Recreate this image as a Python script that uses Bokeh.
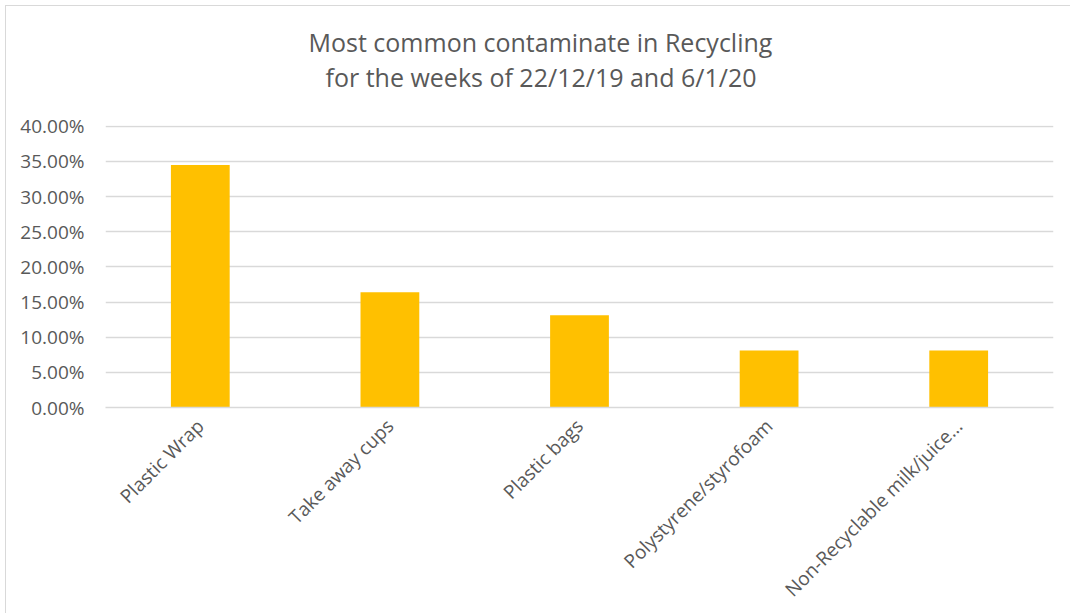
from bokeh.plotting import figure
from bokeh.embed import file_html
from bokeh.resources import INLINE
from bokeh.models import NumeralTickFormatter, Range1d, FixedTicker, Title
import math

categories = ["Plastic Wrap", "Take away cups", "Plastic bags",
              "Polystyrene/styrofoam", "Non-Recyclable milk/juice…"]
values = [0.3448, 0.1638, 0.1312, 0.0811, 0.0811]
y_ticks = [0.0, 0.05, 0.10, 0.15, 0.20, 0.25, 0.30, 0.35, 0.40]
title_lines = ["Most common contaminate in Recycling",
               "for the weeks of 22/12/19 and 6/1/20"]

FONT = "Open Sans"
GREY = "#595959"

p = figure(x_range=categories, width=1065, height=608,
           output_backend="svg", toolbar_location=None,
           min_border_left=99, min_border_right=18,
           min_border_top=119, min_border_bottom=200)
p.margin = (5, 0, 0, 5)
p.styles = {"border-left": "1px solid #D9D9D9", "border-top": "1px solid #D9D9D9"}
p.y_range = Range1d(0, 0.401)

p.vbar(x=categories, top=values, width=0.31, fill_color="#FFC000",
       line_color=None)

# line closest to the frame is added first
t2 = Title(text=title_lines[1], align="left", offset=220, standoff=64,
           text_font=FONT, text_font_size="25px", text_font_style="normal",
           text_color=GREY)
t1 = Title(text=title_lines[0], align="left", offset=203, standoff=-66,
           text_font=FONT, text_font_size="25px", text_font_style="normal",
           text_color=GREY)
p.add_layout(t2, "above")
p.add_layout(t1, "above")

p.outline_line_color = None
p.xgrid.grid_line_color = None
p.ygrid.grid_line_color = "#D9D9D9"
p.ygrid.grid_line_width = 1.3

p.yaxis.ticker = FixedTicker(ticks=y_ticks)
p.yaxis.formatter = NumeralTickFormatter(format="0.00%")
p.yaxis.axis_line_color = None
p.yaxis.major_tick_line_color = None
p.yaxis.minor_tick_line_color = None
p.yaxis.major_label_standoff = 15
p.yaxis.major_label_text_font = FONT
p.yaxis.major_label_text_font_size = "19px"
p.yaxis.major_label_text_color = GREY

p.xaxis.axis_line_color = "#D9D9D9"
p.xaxis.axis_line_width = 1.3
p.xaxis.major_tick_line_color = None
p.xaxis.minor_tick_line_color = None
p.xaxis.major_label_standoff = 9
p.xaxis.major_label_orientation = math.pi / 4
p.xaxis.major_label_text_font = FONT
p.xaxis.major_label_text_font_size = "19px"
p.xaxis.major_label_text_color = GREY

p.background_fill_color = "white"
p.border_fill_color = "white"

open("out.html", "w").write(file_html(p, INLINE))
